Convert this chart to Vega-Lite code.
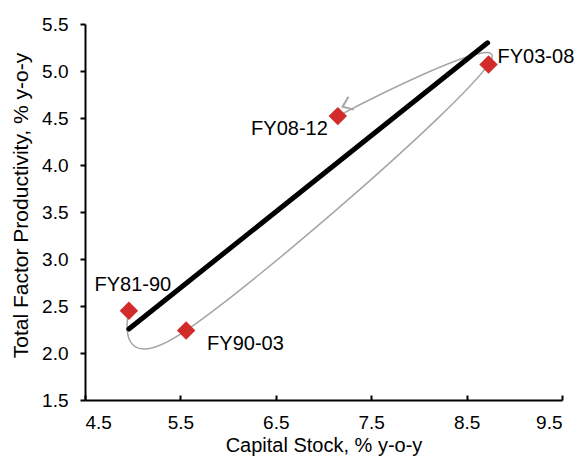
{
  "$schema": "https://vega.github.io/schema/vega-lite/v6.json",
  "width": 477,
  "height": 376,
  "autosize": {"type": "none"},
  "padding": {"left": 85, "top": 24, "right": 17, "bottom": 57},
  "config": {
    "view": {"stroke": null},
    "font": "Liberation Sans",
    "axis": {
      "grid": false,
      "domainColor": "#000000",
      "domainWidth": 2,
      "tickColor": "#000000",
      "tickWidth": 2,
      "labelFont": "Liberation Sans",
      "labelFontSize": 19,
      "labelColor": "#000000",
      "titleFont": "Liberation Sans",
      "titleFontSize": 21,
      "titleFontWeight": "normal",
      "titleColor": "#000000"
    }
  },
  "datasets": {
    "periods": [
      {"label": "FY81-90", "seq": 1, "capital": 4.96, "tfp": 2.45},
      {"label": "FY90-03", "seq": 2, "capital": 5.56, "tfp": 2.24},
      {"label": "FY03-08", "seq": 3, "capital": 8.73, "tfp": 5.07},
      {"label": "FY08-12", "seq": 4, "capital": 7.15, "tfp": 4.52}
    ],
    "trend": [
      {"capital": 4.96, "tfp": 2.255},
      {"capital": 8.72, "tfp": 5.3}
    ],
    "arrow": [
      {"capital": 7.2, "tfp": 4.62}
    ]
  },
  "encoding": {
    "x": {
      "field": "capital",
      "type": "quantitative",
      "scale": {"domain": [4.5, 9.5], "nice": false, "zero": false},
      "axis": {
        "title": "Capital Stock, % y-o-y",
        "values": [4.5, 5.5, 6.5, 7.5, 8.5, 9.5],
        "format": ".1f",
        "tickSize": -5,
        "labelPadding": 18,
        "titleFontSize": 20,
        "titleY": 51,
        "titleBaseline": "alphabetic"
      }
    },
    "y": {
      "field": "tfp",
      "type": "quantitative",
      "scale": {"domain": [1.5, 5.5], "nice": false, "zero": false},
      "axis": {
        "title": "Total Factor Productivity, % y-o-y",
        "values": [1.5, 2, 2.5, 3, 3.5, 4, 4.5, 5, 5.5],
        "format": ".1f",
        "tickSize": 5,
        "labelPadding": 12,
        "titleX": -64,
        "titleY": 181,
        "titleAngle": -90,
        "titleAlign": "center",
        "titleBaseline": "middle"
      }
    }
  },
  "layer": [
    {
      "data": {"name": "periods"},
      "mark": {"type": "line", "interpolate": "cardinal", "tension": -0.25, "color": "#A5A5A5", "strokeWidth": 1.5},
      "encoding": {"order": {"field": "seq", "type": "quantitative"}}
    },
    {
      "data": {"name": "trend"},
      "mark": {"type": "line", "color": "#000000", "strokeWidth": 5, "strokeCap": "round"},
      "encoding": {}
    },
    {
      "data": {"name": "arrow"},
      "mark": {"type": "point", "shape": "M-1,-0.75L0,0L-1,0.75", "filled": false, "stroke": "#A5A5A5", "strokeWidth": 2, "size": 340, "angle": 157.6, "opacity": 1}
    },
    {
      "data": {"name": "periods"},
      "mark": {"type": "point", "shape": "diamond", "filled": true, "color": "#D22B2B", "size": 340, "opacity": 1}
    },
    {
      "data": {"name": "periods"},
      "transform": [{"filter": "datum.label == 'FY81-90'"}],
      "mark": {"type": "text", "font": "Liberation Sans", "fontSize": 20, "align": "center", "baseline": "middle", "dx": 4, "dy": -26, "color": "#000000"},
      "encoding": {"text": {"field": "label"}}
    },
    {
      "data": {"name": "periods"},
      "transform": [{"filter": "datum.label == 'FY90-03'"}],
      "mark": {"type": "text", "font": "Liberation Sans", "fontSize": 20, "align": "left", "baseline": "middle", "dx": 21, "dy": 14, "color": "#000000"},
      "encoding": {"text": {"field": "label"}}
    },
    {
      "data": {"name": "periods"},
      "transform": [{"filter": "datum.label == 'FY08-12'"}],
      "mark": {"type": "text", "font": "Liberation Sans", "fontSize": 20, "align": "right", "baseline": "middle", "dx": -10, "dy": 13, "color": "#000000"},
      "encoding": {"text": {"field": "label"}}
    },
    {
      "data": {"name": "periods"},
      "transform": [{"filter": "datum.label == 'FY03-08'"}],
      "mark": {"type": "text", "font": "Liberation Sans", "fontSize": 20, "align": "left", "baseline": "middle", "dx": 9, "dy": -7, "color": "#000000"},
      "encoding": {"text": {"field": "label"}}
    }
  ]
}
